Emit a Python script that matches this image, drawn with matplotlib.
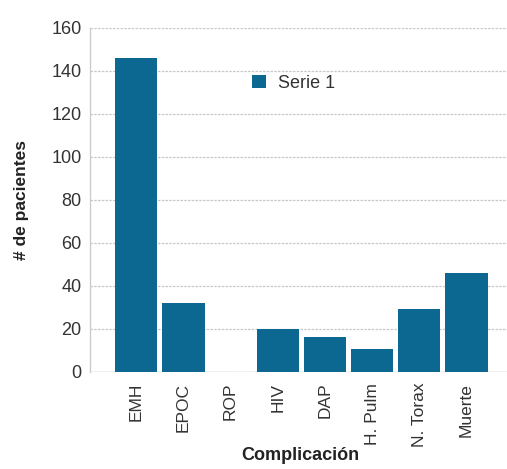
import numpy as np
import matplotlib.pyplot as plt

plt.rcParams['font.family'] = ['Liberation Sans', 'DejaVu Sans']

##data
categorias = ["EMH", "EPOC", "ROP", "HIV", "DAP", "H. Pulm", "N. Torax", "Muerte"]
pacientes = [146, 32, 0, 20, 16, 10.5, 29, 46]
yticks = [0, 20, 40, 60, 80, 100, 120, 140, 160]

color_barra = '#0c6890'

fig = plt.figure(figsize=(5.07, 4.69), dpi=100)
ax = fig.add_axes([0.1775, 0.2075, 0.8225, 0.7335])

x = np.arange(len(categorias))
ax.bar(x, pacientes, width=0.9, color=color_barra, label="Serie 1", zorder=3)

ax.set_xlim(-0.98, 7.86)
ax.set_ylim(0, 160)
ax.set_yticks(yticks)
ax.set_xticks(x)
ax.set_xticklabels(categorias, rotation=90, fontsize=12.5, color='#333333')
ax.tick_params(axis='y', labelsize=13, colors='#333333', length=0, pad=6)
ax.tick_params(axis='x', length=0, pad=8)

# grid
ax.grid(axis='y', color='#c8c8c8', linewidth=0.9, linestyle=(0, (2, 1)), zorder=0)
for s in ['top', 'right', 'bottom']:
    ax.spines[s].set_visible(False)
ax.spines['left'].set_color('#cccccc')
ax.spines['left'].set_linewidth(1.0)
ax.axhline(0, color='#cccccc', linewidth=1.0, zorder=1)

ax.set_ylabel("# de pacientes", fontsize=12.5, fontweight='bold', color='#222222')
ax.set_xlabel("Complicación", fontsize=13, fontweight='bold', color='#222222')
ax.yaxis.set_label_coords(-0.146, 0.5)
ax.xaxis.set_label_coords(0.505, -0.218)

leg = ax.legend(loc='center left', bbox_to_anchor=(0.35, 0.838), frameon=False,
                handlelength=0.75, handleheight=0.75, handletextpad=0.7,
                fontsize=13)
for t in leg.get_texts():
    t.set_color('#333333')

fig.savefig('out.png', dpi=100, facecolor='white')
